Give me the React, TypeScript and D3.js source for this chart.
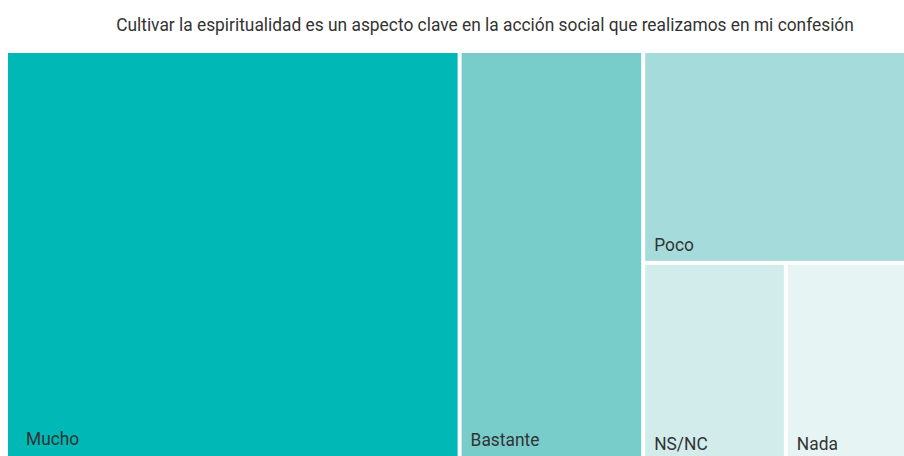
import React, { useRef, useEffect } from "react";
import * as d3 from "d3";

// respuestas y porcentajes
const categories = ["Mucho", "Bastante", "Poco", "NS/NC", "Nada"];
const values = [50.4, 20.4, 15.2, 7.6, 6.4];
const colors = ["#00b9b6", "#78cdcb", "#a6dbdb", "#d2ecec", "#e6f4f4"];
const title =
  "Cultivar la espiritualidad es un aspecto clave en la acción social que realizamos en mi confesión";

// small per-label nudges so the labels sit where the original put them
const labelNudge: Record<string, [number, number]> = {
  Mucho: [9, -1],
  "NS/NC": [0, 4],
  Nada: [0, 4],
};

// no condensed font installed, so squeeze Roboto sideways instead
const FONT = "Roboto, sans-serif";
const TITLE_WIDTH = 738;

function Treemap() {
  const svgRef = useRef<SVGSVGElement>(null);

  useEffect(() => {
    const width = 904,
      height = 456;
    const margin = { top: 53, right: 0, bottom: 0, left: 8 };
    const innerW = width - margin.left - margin.right,
      innerH = height - margin.top - margin.bottom;

    const svg = d3.select(svgRef.current);
    svg.selectAll("*").remove();

    const titleText = svg
      .append("text")
      .attr("text-anchor", "middle")
      .attr("font-family", FONT)
      .attr("font-size", 19)
      .attr("fill", "#333")
      .text(title);

    const natural = (titleText.node() as SVGTextElement).getComputedTextLength();
    const k = natural > 0 ? TITLE_WIDTH / natural : 0.88;
    titleText.attr("transform", "translate(485,31) scale(" + k + ",1)");

    const rows = categories.map((name, i) => ({ name, value: values[i], color: colors[i] }));

    const root = d3
      .hierarchy<any>({ name: "root", children: rows })
      .sum((d) => d.value || 0);

    d3.treemap<any>()
      .tile(d3.treemapBinary)
      .size([innerW, innerH])
      .paddingInner(4)(root);

    const g = svg
      .append("g")
      .attr("transform", "translate(" + margin.left + "," + margin.top + ")");

    const cell = g
      .selectAll(".cell")
      .data(root.leaves() as d3.HierarchyRectangularNode<any>[])
      .join("g")
      .attr("class", "cell");

    cell
      .append("rect")
      .attr("x", (d) => d.x0)
      .attr("y", (d) => d.y0)
      .attr("width", (d) => d.x1 - d.x0)
      .attr("height", (d) => d.y1 - d.y0)
      .attr("fill", (d) => d.data.color);

    cell
      .append("text")
      .attr("transform", (d) => {
        const n = labelNudge[d.data.name] || [0, 0];
        const x = d.x0 + 9 + n[0];
        const y = d.y1 - 10 + n[1];
        return "translate(" + x + "," + y + ") scale(" + k + ",1)";
      })
      .attr("font-family", FONT)
      .attr("font-size", 19)
      .attr("fill", "#333")
      .text((d) => d.data.name);
  }, []);

  return <svg ref={svgRef} width={904} height={456} style={{ display: "block" }}></svg>;
}

export default function App() {
  return (
    <React.Fragment>
      <style>{"body{margin:0;overflow:hidden}"}</style>
      <Treemap />
    </React.Fragment>
  );
}
